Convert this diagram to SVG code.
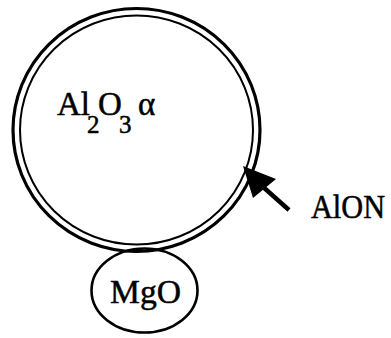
<svg xmlns="http://www.w3.org/2000/svg" width="391" height="338" viewBox="0 0 391 338">
<style>
.t{font-family:"Liberation Serif","Times New Roman",serif;fill:#000;stroke:#000;stroke-width:0.5}
.big{font-size:33px}
.sub{font-size:25px}
.ln{fill:none;stroke:#000}
</style>
<rect width="391" height="338" fill="#fff"/>
<g id="al2o3">
<ellipse class="ln" cx="136.5" cy="130" rx="123.5" ry="121.5" stroke-width="3.2"/>
<ellipse class="ln" cx="136.5" cy="130" rx="116.5" ry="114.5" stroke-width="2"/>
<text class="t big" x="57" y="115">Al</text>
<text class="t sub" x="87" y="133">2</text>
<text class="t big" x="98" y="115">O</text>
<text class="t sub" x="119" y="133">3</text>
<text class="t big" x="138" y="115">α</text>
</g>
<g id="mgo">
<ellipse class="ln" cx="144.5" cy="290.5" rx="53" ry="42" stroke-width="2.6"/>
<text class="t big" x="110" y="303" textLength="71" lengthAdjust="spacingAndGlyphs">MgO</text>
</g>
<g id="alon">
<text class="t big" x="311" y="218" textLength="74" lengthAdjust="spacingAndGlyphs">AlON</text>
</g>
<g id="connectors">
<line x1="289" y1="210" x2="262" y2="186" stroke="#000" stroke-width="4.5"/>
<polygon points="243,166 276,179 253,198" fill="#000"/>
</g>
</svg>
